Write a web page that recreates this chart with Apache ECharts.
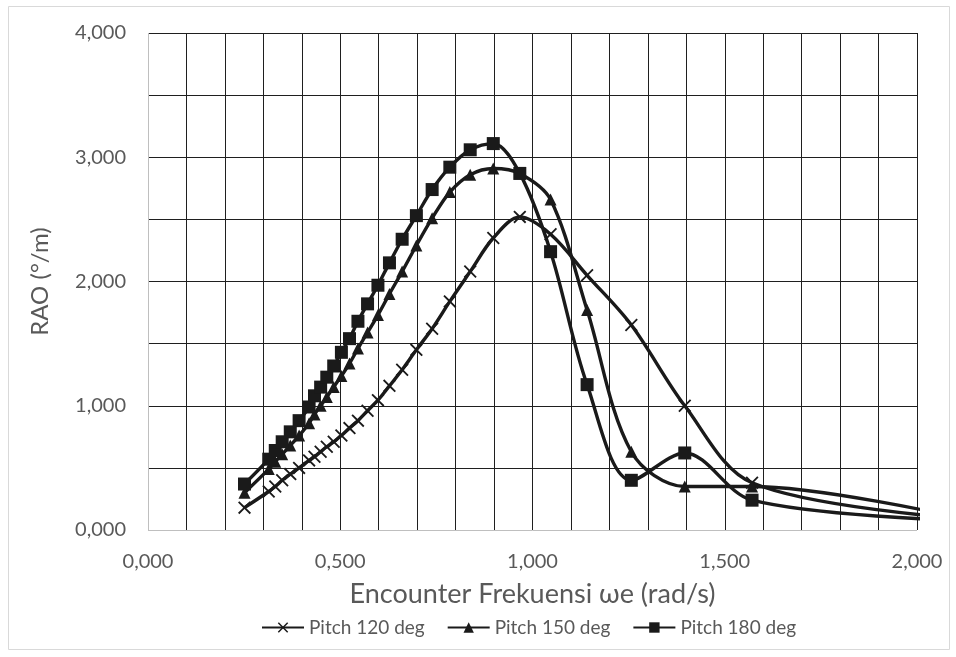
<!DOCTYPE html>
<html><head><meta charset="utf-8">
<script src="https://cdn.jsdelivr.net/npm/echarts@6/dist/echarts.min.js"></script>
<style>html,body{margin:0;padding:0;background:#fff}#c{width:956px;height:657px}</style>
</head><body><div id="c"></div>
<script>
// Encounter frequency (rad/s) – shared by all three series
const omega = [0.251,0.314,0.331,0.349,0.370,0.393,0.419,0.433,0.449,0.465,0.483,0.503,0.524,0.546,0.571,0.598,0.628,0.661,0.698,0.739,0.785,0.838,0.898,0.967,1.047,1.142,1.257,1.396,1.571,2.094];
// RAO values (°/m)
const pitch120 = [0.18,0.31,0.35,0.40,0.45,0.50,0.56,0.59,0.63,0.67,0.71,0.76,0.82,0.88,0.96,1.045,1.16,1.29,1.45,1.62,1.84,2.08,2.35,2.52,2.38,2.05,1.65,1.00,0.38,0.10];
const pitch150 = [0.30,0.49,0.55,0.61,0.68,0.76,0.86,0.93,1.00,1.07,1.15,1.24,1.34,1.46,1.59,1.73,1.90,2.08,2.29,2.51,2.72,2.86,2.91,2.87,2.66,1.77,0.63,0.35,0.35,0.11];
const pitch180 = [0.37,0.57,0.64,0.71,0.79,0.88,0.99,1.08,1.15,1.23,1.32,1.43,1.54,1.68,1.82,1.97,2.15,2.34,2.53,2.74,2.92,3.06,3.11,2.87,2.24,1.17,0.40,0.62,0.24,0.08];
const seriesNames = ['Pitch 120 deg','Pitch 150 deg','Pitch 180 deg'];
const xTickValues = [0,0.5,1,1.5,2];
const xTickLabels = ['0,000','0,500','1,000','1,500','2,000'];
const yTickValues = [0,1,2,3,4];
const yTickLabels = ['0,000','1,000','2,000','3,000','4,000'];
const xTitle = 'Encounter Frekuensi ωe (rad/s)';
const yTitle = 'RAO (°/m)';

function lookup(vals, labels){
  return function(v){
    for (let i=0;i<vals.length;i++){ if (Math.abs(v-vals[i])<1e-6) return labels[i]; }
    return '';
  };
}
const FONT = 'Lato, "Open Sans", sans-serif';
const TXT = '#595959';
const LINE = '#1a1a1a';
const GRID = '#1f1f1f';
const AXIS = '#bfbfbf';
const crossPath = 'path://M0,1 L1,0 L5,4 L9,0 L10,1 L6,5 L10,9 L9,10 L5,6 L1,10 L0,9 L4,5 Z';

function mk(name, vals, symbol, size){
  return {
    name: name, type:'line', smooth:0.33,
    data: omega.map((x,i)=>[x, vals[i]]),
    symbol: symbol, symbolSize: size, showAllSymbol:true,
    lineStyle:{color:LINE, width:3.4},
    itemStyle:{color:LINE},
    emphasis:{disabled:true},
    clip:true
  };
}
const xColors = [AXIS].concat(new Array(20).fill(GRID));
const yColors = [AXIS].concat(new Array(8).fill(GRID));

const chart = echarts.init(document.getElementById('c'), null, {renderer:'canvas'});
chart.setOption({
  animation:false,
  backgroundColor:'#fff',
  textStyle:{fontFamily:FONT},
  graphic:[{type:'rect', shape:{x:8.5,y:6.5,width:941,height:643}, style:{fill:'none', stroke:'#d9d9d9', lineWidth:1}, silent:true}],
  grid:{left:148, right:39, top:33, bottom:127, containLabel:false},
  xAxis:{
    type:'value', min:0, max:2, interval:0.1,
    axisLine:{show:false}, axisTick:{show:false},
    splitLine:{show:true, lineStyle:{color:xColors, width:1}},
    axisLabel:{formatter: lookup(xTickValues, xTickLabels), color:TXT, fontSize:20, fontFamily:FONT, margin:22, showMinLabel:true, showMaxLabel:true, hideOverlap:false},
    name:xTitle, nameLocation:'middle', nameGap:51,
    nameTextStyle:{color:TXT, fontSize:27, fontFamily:FONT}
  },
  yAxis:{
    type:'value', min:0, max:4, interval:0.5,
    axisLine:{show:false}, axisTick:{show:false},
    splitLine:{show:true, lineStyle:{color:yColors, width:1}},
    axisLabel:{formatter: lookup(yTickValues, yTickLabels), color:TXT, fontSize:20, fontFamily:FONT, margin:22},
    name:yTitle, nameLocation:'middle', nameGap:96, nameRotate:90,
    nameTextStyle:{color:TXT, fontSize:24, fontFamily:FONT}
  },
  legend:{
    bottom:15, left:256,
    itemWidth:42, itemHeight:13, itemGap:22,
    textStyle:{color:TXT, fontSize:19, fontFamily:FONT},
    data: seriesNames
  },
  series:[
    mk(seriesNames[0], pitch120, crossPath, 13),
    mk(seriesNames[1], pitch150, 'triangle', 12),
    mk(seriesNames[2], pitch180, 'rect', 13)
  ]
});
</script></body></html>
